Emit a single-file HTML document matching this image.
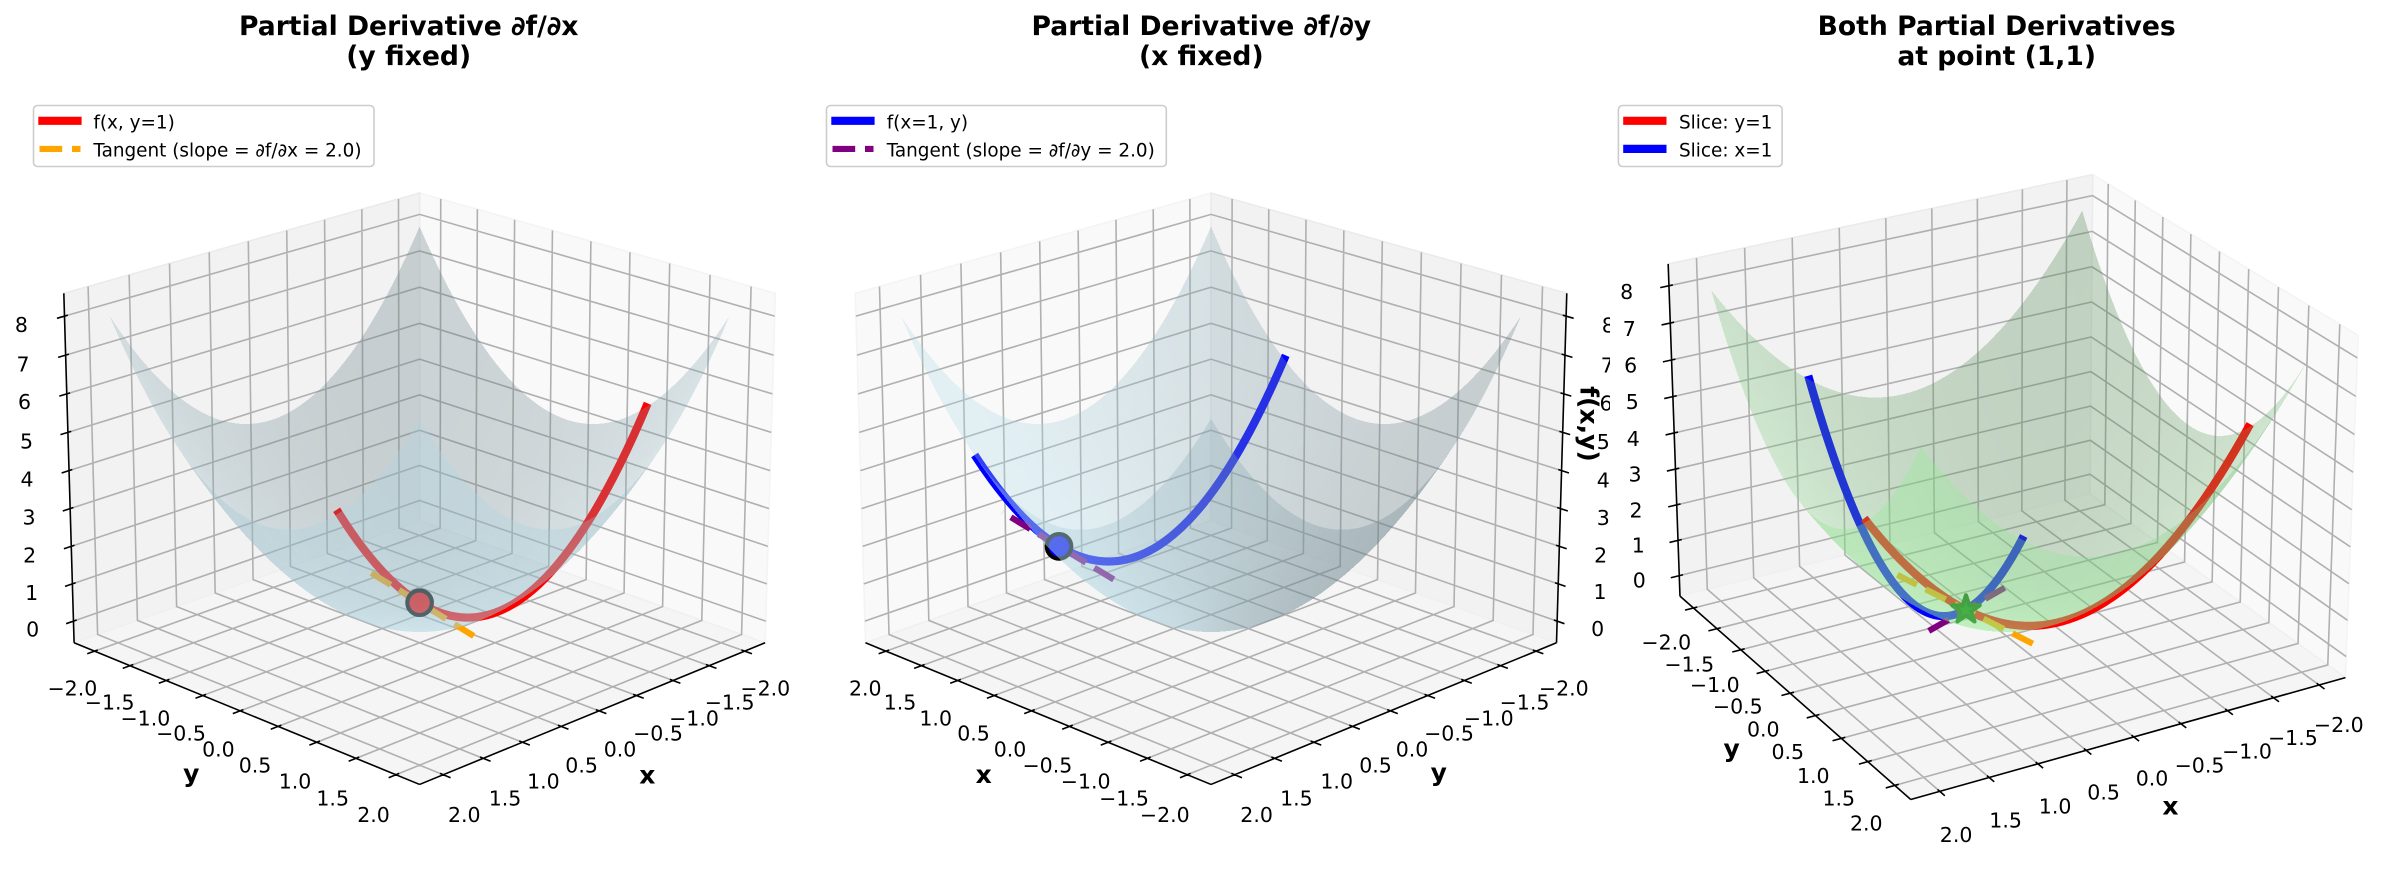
<!DOCTYPE html>
<html><head><meta charset="utf-8">
<style>
html,body{margin:0;padding:0;background:#fff;}
svg{display:block;}
text{font-family:"DejaVu Sans","Liberation Sans",sans-serif;fill:#000;}
.t{font-size:20.5px;text-anchor:middle;}
.ti{font-size:26.6px;font-weight:bold;text-anchor:middle;}
.al{font-size:25px;font-weight:bold;text-anchor:middle;}
.lg{font-size:18.4px;}
</style></head><body>
<svg id="s" xmlns="http://www.w3.org/2000/svg" width="2393" height="881" viewBox="0 0 2393 881">
<rect x="0" y="0" width="2393" height="881" fill="#fff"/>
<g id="g1"></g>
<g id="t1">
<text class="ti" x="408.7" y="35">Partial Derivative ∂f/∂x</text>
<text class="ti" x="408.7" y="65">(y fixed)</text>
<text class="t" x="72.4" y="695.7">−2.0</text>
<text class="t" x="109.7" y="709.7">−1.5</text>
<text class="t" x="145.4" y="725.5">−1.0</text>
<text class="t" x="181" y="740.5">−0.5</text>
<text class="t" x="218.4" y="756.4">0.0</text>
<text class="t" x="255" y="772.5">0.5</text>
<text class="t" x="295" y="788.5">1.0</text>
<text class="t" x="332.7" y="805.3">1.5</text>
<text class="t" x="373.5" y="822.1">2.0</text>
<text class="t" x="464.3" y="822.1">2.0</text>
<text class="t" x="505" y="805.3">1.5</text>
<text class="t" x="543.4" y="788.5">1.0</text>
<text class="t" x="581.6" y="772.5">0.5</text>
<text class="t" x="620" y="756.5">0.0</text>
<text class="t" x="658" y="740.5">−0.5</text>
<text class="t" x="694" y="725.5">−1.0</text>
<text class="t" x="729.6" y="709.5">−1.5</text>
<text class="t" x="765.3" y="695.5">−2.0</text>
<text class="t" x="21.4" y="332.2">8</text>
<text class="t" x="23" y="371.5">7</text>
<text class="t" x="24.5" y="409.2">6</text>
<text class="t" x="26.5" y="448.5">5</text>
<text class="t" x="27" y="486.5">4</text>
<text class="t" x="29" y="524.5">3</text>
<text class="t" x="29.6" y="562.5">2</text>
<text class="t" x="31.6" y="600.2">1</text>
<text class="t" x="32.7" y="636.5">0</text>
<text class="al" x="191.3" y="782">y</text>
<text class="al" x="647.3" y="783.5">x</text>
</g>
<g id="g2"></g>
<g id="t2">
<text class="ti" x="1201.3" y="35">Partial Derivative ∂f/∂y</text>
<text class="ti" x="1201.3" y="65">(x fixed)</text>
<text class="t" x="865.3" y="695.7">2.0</text>
<text class="t" x="900" y="709.7">1.5</text>
<text class="t" x="935.7" y="725.5">1.0</text>
<text class="t" x="973.5" y="740.5">0.5</text>
<text class="t" x="1010" y="756.5">0.0</text>
<text class="t" x="1047.4" y="772.5">−0.5</text>
<text class="t" x="1085.7" y="788.5">−1.0</text>
<text class="t" x="1124" y="805.3">−1.5</text>
<text class="t" x="1164.8" y="822.1">−2.0</text>
<text class="t" x="1256.6" y="822.1">2.0</text>
<text class="t" x="1296.4" y="805.3">1.5</text>
<text class="t" x="1336.7" y="788.5">1.0</text>
<text class="t" x="1375.5" y="772.5">0.5</text>
<text class="t" x="1412" y="756.5">0.0</text>
<text class="t" x="1449" y="740.5">−0.5</text>
<text class="t" x="1488.8" y="725.5">−1.0</text>
<text class="t" x="1524.5" y="709.5">−1.5</text>
<text class="t" x="1563.8" y="695.5">−2.0</text>
<text class="t" x="1597.7" y="635.8">0</text>
<text class="t" x="1600" y="599.2">1</text>
<text class="t" x="1600.7" y="562.5">2</text>
<text class="t" x="1603.3" y="525.2">3</text>
<text class="t" x="1603.3" y="487.5">4</text>
<text class="t" x="1603.3" y="449.2">5</text>
<text class="t" x="1606" y="410.5">6</text>
<text class="t" x="1607.3" y="372.5">7</text>
<text class="t" x="1608.3" y="332.5">8</text>
<text class="al" x="983.7" y="782.8">x</text>
<text class="al" x="1438.8" y="781">y</text>
</g>
<rect x="1610" y="0" width="783" height="881" fill="#fff"/>
<g id="g3"></g>
<g id="t3">
<text class="ti" x="1996.7" y="35">Both Partial Derivatives</text>
<text class="ti" x="1996.7" y="65">at point (1,1)</text>
<text class="t" x="1626.7" y="299.2">8</text>
<text class="t" x="1629.3" y="335.8">7</text>
<text class="t" x="1630.7" y="372.5">6</text>
<text class="t" x="1632.3" y="409.2">5</text>
<text class="t" x="1633.3" y="445.8">4</text>
<text class="t" x="1635" y="481.5">3</text>
<text class="t" x="1636" y="517.5">2</text>
<text class="t" x="1638.3" y="552.5">1</text>
<text class="t" x="1639.3" y="587.5">0</text>
<text class="t" x="1666.3" y="649.6">−2.0</text>
<text class="t" x="1689.3" y="671.5">−1.5</text>
<text class="t" x="1714.8" y="691.8">−1.0</text>
<text class="t" x="1737.8" y="713.7">−0.5</text>
<text class="t" x="1763.3" y="736.7">0.0</text>
<text class="t" x="1787.8" y="759.2">0.5</text>
<text class="t" x="1813.3" y="782.8">1.0</text>
<text class="t" x="1838.8" y="805.3">1.5</text>
<text class="t" x="1866.3" y="830.5">2.0</text>
<text class="t" x="1956.1" y="841.8">2.0</text>
<text class="t" x="2005.6" y="827.7">1.5</text>
<text class="t" x="2055.1" y="813.7">1.0</text>
<text class="t" x="2103.6" y="799.6">0.5</text>
<text class="t" x="2152" y="785.6">0.0</text>
<text class="t" x="2199.5" y="772.7">−0.5</text>
<text class="t" x="2247" y="758.6">−1.0</text>
<text class="t" x="2292.9" y="745.1">−1.5</text>
<text class="t" x="2338.8" y="732.2">−2.0</text>
<text class="al" x="1731.6" y="757">y</text>
<text class="al" x="2170.4" y="814.7">x</text>
<text class="al" transform="translate(1589,424) rotate(90)" x="0" y="0" dy="0.35em">f(x,y)</text>
</g>
<!-- legends -->
<g>
<rect x="33.5" y="105.5" width="340.5" height="61" rx="4" fill="#fff" fill-opacity="0.8" stroke="#cccccc" stroke-width="1.6"/>
<line x1="42.4" y1="120.8" x2="77.5" y2="120.8" stroke="#ff0000" stroke-width="8.2" stroke-linecap="square"/>
<line x1="39.5" y1="148.9" x2="80.5" y2="148.9" stroke="#ffa500" stroke-width="6.15" stroke-dasharray="22.7 9.8"/>
<text class="lg" x="93.4" y="128.6">f(x, y=1)</text>
<text class="lg" x="93.4" y="156.7">Tangent (slope = ∂f/∂x = 2.0)</text>

<rect x="826.5" y="105.5" width="339.8" height="61" rx="4" fill="#fff" fill-opacity="0.8" stroke="#cccccc" stroke-width="1.6"/>
<line x1="835.4" y1="120.8" x2="870.5" y2="120.8" stroke="#0000ff" stroke-width="8.2" stroke-linecap="square"/>
<line x1="832.5" y1="148.9" x2="873.5" y2="148.9" stroke="#800080" stroke-width="6.15" stroke-dasharray="22.7 9.8"/>
<text class="lg" x="886.7" y="128.6">f(x=1, y)</text>
<text class="lg" x="886.7" y="156.7">Tangent (slope = ∂f/∂y = 2.0)</text>

<rect x="1618.4" y="105.5" width="163.7" height="61" rx="4" fill="#fff" fill-opacity="0.8" stroke="#cccccc" stroke-width="1.6"/>
<line x1="1627.3" y1="120.8" x2="1662.4" y2="120.8" stroke="#ff0000" stroke-width="8.2" stroke-linecap="square"/>
<line x1="1627.3" y1="148.9" x2="1662.4" y2="148.9" stroke="#0000ff" stroke-width="8.2" stroke-linecap="square"/>
<text class="lg" x="1679" y="128.6">Slice: y=1</text>
<text class="lg" x="1679" y="156.7">Slice: x=1</text>
</g>
</svg>
<script>
(function(){
var NS='http://www.w3.org/2000/svg';
function el(p,t,a){var e=document.createElementNS(NS,t);for(var k in a)e.setAttribute(k,a[k]);p.appendChild(e);return e;}
var L=2.2917,ZL=-0.5833,ZH=8.5833,S=0.571429,SZ=0.428571,HZ=4.5833,SC=4338;
function mk(e,a,X0,Y0){
 var er=e*Math.PI/180,ar=a*Math.PI/180;
 var ce=Math.cos(er),se=Math.sin(er),ca=Math.cos(ar),sa=Math.sin(ar);
 var u0=-sa,u1=ca,v0=-se*ca,v1=-se*sa,v2=ce,w0=ce*ca,w1=ce*sa,w2=se;
 return function(x,y,z){
  var cx=x/L*S,cy=y/L*S,cz=(z-4)/HZ*SZ;
  var d=10-(w0*cx+w1*cy+w2*cz);
  return [X0+SC*(u0*cx+u1*cy)/d, Y0-SC*(v0*cx+v1*cy+v2*cz)/d, d];
 };
}
function f2(n){return n.toFixed(2);}
function pathOf(ps,close){var s='M'+f2(ps[0][0])+' '+f2(ps[0][1]);for(var i=1;i<ps.length;i++)s+='L'+f2(ps[i][0])+' '+f2(ps[i][1]);return close?s+'Z':s;}
var LD=[-0.6667,-0.6667,0.3333];
function line(g,P,pts,color,w,dash){
 var ps=pts.map(function(p){return P(p[0],p[1],p[2]);});
 var a={d:pathOf(ps),fill:'none',stroke:color,'stroke-width':w,'stroke-linejoin':'round','stroke-linecap':dash?'butt':'square'};
 if(dash)a['stroke-dasharray']=dash;
 el(g,'path',a);
}
function samp(f,n){var r=[];for(var i=0;i<=n;i++){r.push(f(-2+4*i/n));}return r;}
function panel(cfg){
 var g=document.getElementById(cfg.id);
 var P=mk(cfg.e,cfg.a,cfg.X0,cfg.Y0);
 var xb=cfg.xb,yb=cfg.yb,xf=-xb,yf=-yb;
 el(g,'path',{d:pathOf([P(xb,-L,ZL),P(xb,L,ZL),P(xb,L,ZH),P(xb,-L,ZH)],1),fill:'#f9f9f9',stroke:'#f4f4f4','stroke-width':1.6});
 el(g,'path',{d:pathOf([P(-L,yb,ZL),P(L,yb,ZL),P(L,yb,ZH),P(-L,yb,ZH)],1),fill:'#f2f2f2',stroke:'#ebebeb','stroke-width':1.6});
 el(g,'path',{d:pathOf([P(-L,-L,ZL),P(L,-L,ZL),P(L,L,ZL),P(-L,L,ZL)],1),fill:'#f5f5f5',stroke:'#f0f0f0','stroke-width':1.6});
 var T=[-2,-1.5,-1,-0.5,0,0.5,1,1.5,2],gd='',i,t;
 for(i=0;i<T.length;i++){t=T[i];gd+=pathOf([P(t,yf,ZL),P(t,yb,ZL),P(t,yb,ZH)]);gd+=pathOf([P(xf,t,ZL),P(xb,t,ZL),P(xb,t,ZH)]);}
 for(var z=0;z<=8;z++)gd+=pathOf([P(xb,yf,z),P(xb,yb,z),P(xf,yb,z)]);
 el(g,'path',{d:gd,fill:'none',stroke:'#b0b0b0','stroke-width':1.6});
 var sy=yf>0?1:-1,sx=xf>0?1:-1;
 var ad=pathOf([P(-L,yf,ZL),P(L,yf,ZL)])+pathOf([P(xf,-L,ZL),P(xf,L,ZL)])+pathOf([P(xf,yb,ZL),P(xf,yb,ZH)]);
 for(i=0;i<T.length;i++){t=T[i];ad+=pathOf([P(t,yf-sy*0.04,ZL),P(t,yf+sy*0.09,ZL)]);ad+=pathOf([P(xf-sx*0.04,t,ZL),P(xf+sx*0.09,t,ZL)]);}
 for(z=0;z<=8;z++)ad+=pathOf([P(xf-sx*0.04,yb,z),P(xf+sx*0.09,yb,z)]);
 el(g,'path',{d:ad,fill:'none',stroke:'#000','stroke-width':1.6});
 cfg.draw(g,P);
 var N=50,polys=[],F=function(x,y){return x*x+y*y;};
 for(i=0;i<N;i++)for(var j=0;j<N;j++){
  var x0=-2+4*i/N,x1=-2+4*(i+1)/N,y0=-2+4*j/N,y1=-2+4*(j+1)/N;
  var a=P(x0,y0,F(x0,y0)),b=P(x1,y0,F(x1,y0)),c=P(x1,y1,F(x1,y1)),d=P(x0,y1,F(x0,y1));
  var cx=(x0+x1)/2,cy=(y0+y1)/2,nx=-2*cx,ny=-2*cy,nz=1,nn=Math.sqrt(nx*nx+ny*ny+1);
  var sh=(nx*LD[0]+ny*LD[1]+nz*LD[2])/nn;
  polys.push({dep:(a[2]+b[2]+c[2]+d[2])/4,p:[a,b,c,d],f:0.766+0.234*sh});
 }
 polys.sort(function(p,q){return q.dep-p.dep;});
 var sg=el(g,'g',{'shape-rendering':'crispEdges','fill-opacity':cfg.alpha});
 var B=cfg.base;
 for(i=0;i<polys.length;i++){var p=polys[i];
  el(sg,'path',{d:pathOf(p.p,1),fill:'rgb('+Math.round(B[0]*p.f)+','+Math.round(B[1]*p.f)+','+Math.round(B[2]*p.f)+')'});}
}
var DASH='22.7 9.8';
panel({id:'g1',e:20,a:45,X0:419.6,Y0:470.6,xb:-L,yb:-L,base:[173,216,230],alpha:0.3,draw:function(g,P){
 line(g,P,samp(function(t){return [t,1,t*t+1];},200),'#ff0000',8.2);
 line(g,P,[[0.3,1,0.6],[1.7,1,3.4]],'#ffa500',6.15,DASH);
 var m=P(1,1,2);el(g,'circle',{cx:f2(m[0]),cy:f2(m[1]),r:12.3,fill:'#ff0000',stroke:'#000','stroke-width':4.1});
}});
panel({id:'g2',e:20,a:135,X0:1211,Y0:470.6,xb:L,yb:-L,base:[173,216,230],alpha:0.3,draw:function(g,P){
 line(g,P,samp(function(t){return [1,t,t*t+1];},200),'#0000ff',8.2);
 line(g,P,[[1,0.3,0.6],[1,1.7,3.4]],'#800080',6.15,DASH);
 var m=P(1,1,2);el(g,'circle',{cx:f2(m[0]),cy:f2(m[1]),r:12.3,fill:'#0000ff',stroke:'#000','stroke-width':4.1});
}});
panel({id:'g3',e:25,a:60,X0:2006.5,Y0:470.6,xb:-L,yb:-L,base:[144,238,144],alpha:0.3,draw:function(g,P){
 line(g,P,samp(function(t){return [1,t,t*t+1];},200),'#0000ff',8.2);
 line(g,P,samp(function(t){return [t,1,t*t+1];},200),'#ff0000',8.2);
 line(g,P,[[0.3,1,0.6],[1.7,1,3.4]],'#ffa500',6.15,DASH);
 line(g,P,[[1,0.3,0.6],[1,1.7,3.4]],'#800080',6.15,DASH);
 var m=P(1,1,2),R=14.5,pts=[];
 for(var k=0;k<10;k++){var an=(-90+k*36)*Math.PI/180,r=(k%2===0)?R:R*0.381966;pts.push([m[0]+r*Math.cos(an),m[1]+r*Math.sin(an)]);}
 el(g,'path',{d:pathOf(pts,1),fill:'#008000',stroke:'#006400','stroke-width':4.1,'stroke-linejoin':'round'});
}});
})();
</script>
</body></html>
